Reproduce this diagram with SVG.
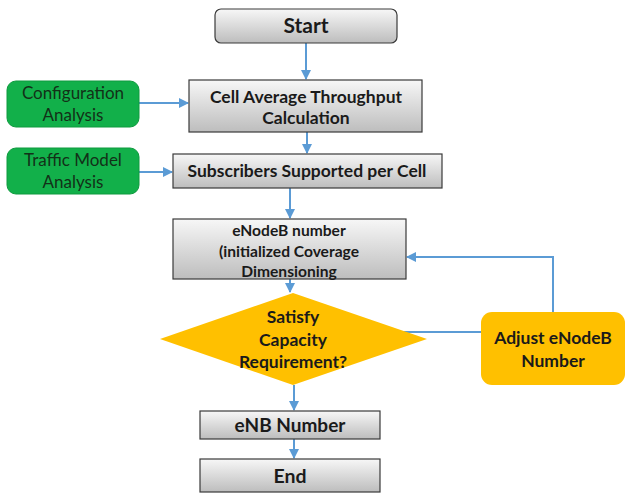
<svg xmlns="http://www.w3.org/2000/svg" width="626" height="494" viewBox="0 0 626 494">
<defs>
<linearGradient id="gray" x1="0" y1="0" x2="0" y2="1">
<stop offset="0" stop-color="#f7f7f7"/>
<stop offset="1" stop-color="#bdbdbd"/>
</linearGradient>
<marker id="arr" viewBox="0 0 10 10" refX="9" refY="5" markerWidth="10" markerHeight="10" markerUnits="userSpaceOnUse" orient="auto">
<path d="M0,0 L10,5 L0,10 z" fill="#5b9bd5"/>
</marker>
<style>
.box{fill:url(#gray);stroke:#3a3a3a;stroke-width:1.2}
.green{fill:#12b04a;stroke:#0e9a3e;stroke-width:1}
.orange{fill:#ffc000}
.t{font-family:Lato,"Liberation Sans",sans-serif;font-weight:bold;fill:#1a1a1a;text-anchor:middle}
.g{font-family:Lato,"Liberation Sans",sans-serif;fill:#123018;text-anchor:middle;font-size:17px}
.c{fill:none;stroke:#5b9bd5;stroke-width:2}
</style>
</defs>
<g id="connectors">
<line class="c" x1="306" y1="43" x2="306" y2="79" marker-end="url(#arr)"/>
<line class="c" x1="139" y1="103" x2="188" y2="103" marker-end="url(#arr)"/>
<line class="c" x1="307" y1="132" x2="307" y2="153" marker-end="url(#arr)"/>
<line class="c" x1="139" y1="172" x2="172" y2="172" marker-end="url(#arr)"/>
<line class="c" x1="290" y1="188" x2="290" y2="218" marker-end="url(#arr)"/>
<line class="c" x1="290" y1="279" x2="290" y2="292" marker-end="url(#arr)"/>
<line class="c" x1="400" y1="332" x2="481" y2="332"/>
<polyline class="c" points="553,312 553,257 407,257" marker-end="url(#arr)"/>
<line class="c" x1="294" y1="385" x2="294" y2="410" marker-end="url(#arr)"/>
<line class="c" x1="294" y1="439" x2="294" y2="458" marker-end="url(#arr)"/>
</g>
<g id="start">
<rect class="box" x="215" y="9" width="182" height="34" rx="6"/>
<text class="t" x="306" y="33" font-size="21">Start</text>
</g>
<g id="config">
<rect class="green" x="7" y="81" width="132" height="46" rx="9"/>
<text class="g" x="73" y="99">Configuration</text>
<text class="g" x="73" y="121">Analysis</text>
</g>
<g id="traffic">
<rect class="green" x="7" y="148" width="132" height="46" rx="9"/>
<text class="g" x="73" y="166">Traffic Model</text>
<text class="g" x="73" y="188">Analysis</text>
</g>
<g id="cellavg">
<rect class="box" x="189" y="80" width="233" height="52"/>
<text class="t" x="306" y="103" font-size="17.5">Cell Average Throughput</text>
<text class="t" x="306" y="124" font-size="17.5">Calculation</text>
</g>
<g id="subscribers">
<rect class="box" x="173" y="154" width="269" height="34"/>
<text class="t" x="307" y="177" font-size="17.5">Subscribers Supported per Cell</text>
</g>
<g id="enodeb">
<rect class="box" x="173" y="219" width="233" height="60"/>
<text class="t" x="289" y="236" font-size="15.6">eNodeB number</text>
<text class="t" x="289" y="257" font-size="15.6">(initialized Coverage</text>
<text class="t" x="289" y="277" font-size="15.6">Dimensioning</text>
</g>
<g id="decision">
<polygon class="orange" points="293,293 427,339 293,385 160,339"/>
<text class="t" x="293" y="323" font-size="17.5">Satisfy</text>
<text class="t" x="293" y="346" font-size="17.5">Capacity</text>
<text class="t" x="293" y="368" font-size="17.5">Requirement?</text>
</g>
<g id="adjust">
<rect class="orange" x="481" y="312" width="144" height="73" rx="11"/>
<text class="t" x="553" y="344" font-size="17.5">Adjust eNodeB</text>
<text class="t" x="553" y="367" font-size="17.5">Number</text>
</g>
<g id="enb">
<rect class="box" x="200" y="411" width="180" height="28"/>
<text class="t" x="290" y="432" font-size="19">eNB Number</text>
</g>
<g id="end">
<rect class="box" x="200" y="459" width="180" height="33"/>
<text class="t" x="290" y="483" font-size="19.5">End</text>
</g>
</svg>
